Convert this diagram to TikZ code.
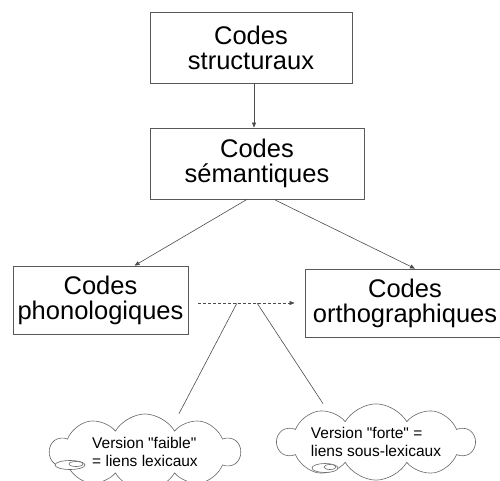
\documentclass[tikz,border=0pt]{standalone}
\usepackage{fontspec}
\setmainfont{Liberation Sans}[Ligatures=TeXOff]
\usetikzlibrary{arrows.meta,shapes.symbols}
\begin{document}
\begin{tikzpicture}[x=1pt,y=-1pt,
        >={Triangle[length=5pt,width=4pt]},
        codebox/.style={draw=black!65,line width=0.8pt,align=center,inner sep=2pt,
            font=\fontsize{25.5}{25}\selectfont},
        bulle/.style={cloud,draw=black!60,line width=0.6pt,align=left,fill=white,
            cloud puffs=10,cloud puff arc=120,cloud ignores aspect,inner sep=1pt,
            font=\fontsize{15.5}{18.5}\selectfont},
        lien/.style={draw=black!70,line width=0.6pt},
        rond/.style={draw=black!60,line width=0.6pt,fill=white}]
    \useasboundingbox (0,0) rectangle (500,481);
    \node[codebox,minimum width=202pt,minimum height=71pt] (1) at(251,47.5){Codes\\structuraux};
    \node[codebox,minimum width=214pt,minimum height=71pt] (2) at(257,163.5){Codes\\sémantiques};
    \node[codebox,minimum width=175pt,minimum height=68pt] (3) at(100.5,300){Codes\\phonologiques};
    \node[codebox,minimum width=200pt,minimum height=68pt] (4) at(405,303){Codes\\orthographiques};
    \node[bulle,minimum width=190pt,minimum height=76pt] (5) at(145,452){Version "faible"\\= liens lexicaux};
    \node[bulle,minimum width=197pt,minimum height=64pt] (6) at(376,442){Version "forte" =\\liens sous-lexicaux};
    % petites bulles
    \draw[rond] (70,465) ellipse [x radius=15pt,y radius=4.5pt];
    \draw[rond] (76,464) ellipse [x radius=7pt,y radius=2.5pt];
    \draw[rond] (325,468) ellipse [x radius=13pt,y radius=4.5pt];
    \draw[rond] (330,467) ellipse [x radius=6pt,y radius=2.5pt];
    \draw[lien,->] ([xshift=3pt]1.south) --([xshift=-3pt]2.north);
    \draw[lien,->] ([xshift=-10pt]2.south) --([xshift=34pt]3.north);
    \draw[lien,->] ([xshift=17pt]2.south) --([xshift=10pt]4.north);
    \draw[lien,densely dashed,->] ([xshift=10pt]3.east |- 4.west) --([xshift=-10pt]4.west);
    \coordinate (j1) at(237,303);
    \coordinate (j2) at(257,303);
    \draw[lien] (j1) --([xshift=34pt]5.north);
    \draw[lien] (j2) --([xshift=-53pt]6.north);
\end{tikzpicture}
\end{document}
